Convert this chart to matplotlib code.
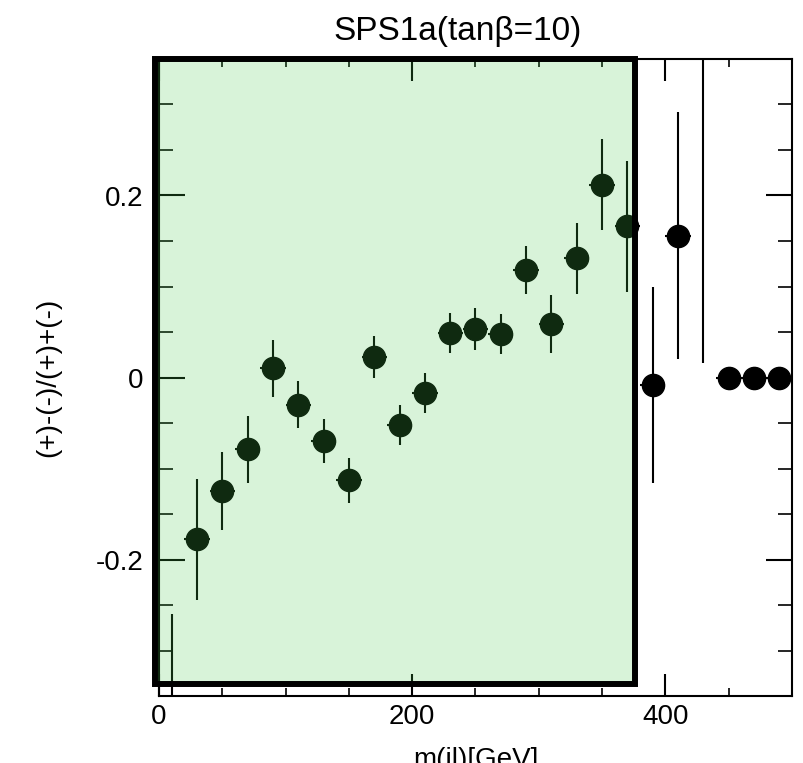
import matplotlib.pyplot as plt
from matplotlib.patches import Rectangle
from matplotlib.ticker import MultipleLocator

plt.rcParams["font.family"] = ["Liberation Sans", "DejaVu Sans"]

# bin centres of m(jl) in GeV, 20 GeV bins
mass_bin = [10, 30, 50, 70, 90, 110, 130, 150, 170, 190, 210, 230, 250,
            270, 290, 310, 330, 350, 370, 390, 410, 430, 450, 470, 490]
bin_halfwidth = 10
asym = [-0.45, -0.178, -0.125, -0.079, 0.010, -0.030, -0.070, -0.113, 0.023,
        -0.052, -0.017, 0.049, 0.053, 0.048, 0.118, 0.059, 0.131, 0.212,
        0.166, -0.008, 0.156, 0.45, 0.0, 0.0, 0.0]
asym_err = [0.19, 0.066, 0.043, 0.037, 0.031, 0.026, 0.024, 0.025, 0.023,
            0.022, 0.022, 0.022, 0.023, 0.022, 0.026, 0.032, 0.039, 0.050,
            0.072, 0.108, 0.136, 0.434, 0.0, 0.0, 0.0]

# shaded region (mass range used for the fit)
region_x = (-3, 376)
region_y = (-0.337, 0.35)

fig = plt.figure(figsize=(8.04, 7.63), dpi=100)
ax = fig.add_axes([159 / 804, 67 / 763, 633 / 804, 637 / 763])

ax.errorbar(mass_bin, asym, yerr=asym_err, xerr=bin_halfwidth, fmt="o",
            color="black", markersize=16, elinewidth=1.5, capsize=0)

ax.add_patch(Rectangle((region_x[0], region_y[0]),
                       region_x[1] - region_x[0], region_y[1] - region_y[0],
                       facecolor=(0.28, 0.79, 0.30, 0.21), edgecolor="black",
                       linewidth=4.3, zorder=4, clip_on=False))

ax.set_xlim(0, 500)
ax.set_ylim(-0.35, 0.35)
ax.xaxis.set_major_locator(MultipleLocator(200))
ax.xaxis.set_minor_locator(MultipleLocator(50))
ax.yaxis.set_major_locator(MultipleLocator(0.2))
ax.yaxis.set_minor_locator(MultipleLocator(0.05))
ax.yaxis.set_major_formatter(lambda v, p: "0" if abs(v) < 1e-9 else f"{v:g}")

ax.tick_params(which="both", direction="in", top=True, right=True,
               labelsize=20)
ax.tick_params(axis="x", which="major", length=16, width=1.5, pad=6)
ax.tick_params(axis="x", which="minor", length=6, width=1.2)
ax.tick_params(axis="y", which="major", length=19, width=1.5, pad=11)
ax.tick_params(axis="y", which="minor", length=10, width=1.2)
for s in ax.spines.values():
    s.set_linewidth(1.5)

ax.set_title("SPS1a(tan\u03b2=10)", fontsize=24, pad=14, x=0.472)
ax.set_xlabel("m(jl)[GeV]", fontsize=20, labelpad=12)
ax.set_ylabel("(+)-(-)/(+)+(-)", fontsize=20, labelpad=25)

fig.savefig("out.png", dpi=100)
